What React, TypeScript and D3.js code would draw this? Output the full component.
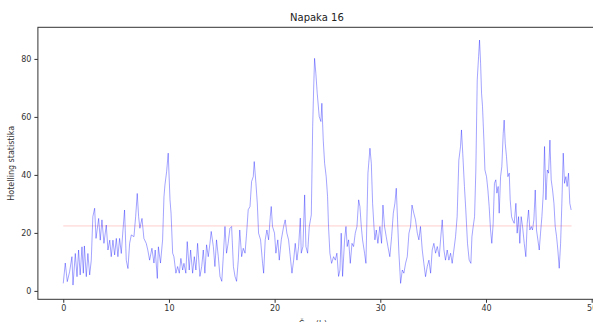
import React, { useRef, useEffect } from 'react';
import * as d3 from 'd3';

// time in hours
const hours = [
  0.0, 0.19, 0.38, 0.6, 0.82, 0.92, 1.14, 1.3, 1.45, 1.6, 1.77, 1.9, 2.0, 2.18, 2.33, 2.5, 2.65, 2.8, 2.97, 3.1,
  3.35, 3.5, 3.66, 3.85, 4.07, 4.23, 4.4, 4.54, 4.7, 4.86, 5.02, 5.17, 5.33, 5.49, 5.65, 5.8, 5.96, 6.12, 6.28, 6.44,
  6.69, 6.85, 7.0, 7.13, 7.25, 7.45, 7.63, 7.85, 8.0, 8.17, 8.39, 8.58, 8.7, 8.9, 9.0, 9.2,
  9.4, 9.53, 9.62, 9.78, 9.93, 10.1, 10.2, 10.35, 10.47, 10.66, 10.82, 10.98, 11.13, 11.3, 11.42, 11.6, 11.73, 11.92,
  12.05, 12.24, 12.4, 12.55, 12.71, 12.93, 13.1, 13.25, 13.4, 13.56, 13.72, 13.88, 14.0, 14.2, 14.35, 14.5, 14.67,
  14.83, 15.0, 15.14, 15.3, 15.45, 15.6, 15.77, 15.93, 16.1, 16.25, 16.4, 16.56, 16.7, 16.88, 17.03, 17.2, 17.35,
  17.5, 17.67, 17.82, 17.98, 18.07, 18.23, 18.36, 18.48, 18.67, 18.86,
  18.96, 19.11, 19.27, 19.43, 19.59, 19.68, 19.8, 19.99, 20.12, 20.3, 20.44, 20.63, 20.85, 21.0, 21.16, 21.32, 21.48,
  21.64, 21.8, 21.95, 22.11, 22.27, 22.43, 22.52, 22.68, 22.84, 22.96, 23.12, 23.28, 23.47, 23.6, 23.69, 23.78, 23.9,
  24.03, 24.22, 24.38, 24.47, 24.6, 24.73, 24.88, 25.01, 25.1, 25.23, 25.39, 25.58, 25.74, 25.89, 26.05, 26.18, 26.3,
  26.43, 26.62, 26.75, 26.87, 27.0, 27.16, 27.32, 27.47, 27.63, 27.79, 27.95, 28.07, 28.2, 28.32, 28.51, 28.64,
  28.83, 29.02, 29.15, 29.27, 29.4, 29.49, 29.62, 29.77, 29.96, 30.12, 30.25, 30.4, 30.56, 30.72, 30.9, 31.07, 31.23,
  31.38, 31.51, 31.63, 31.76, 31.92, 32.08, 32.23, 32.39, 32.55, 32.71, 32.86, 33.0, 33.17, 33.33, 33.5, 33.65, 33.8,
  33.97, 34.12, 34.28, 34.44, 34.6, 34.76, 34.91, 35.07, 35.23, 35.39, 35.58, 35.7, 35.86, 36.02, 36.17, 36.33, 36.49,
  36.65, 36.8, 36.96, 37.12, 37.27, 37.43, 37.59, 37.68, 37.8, 37.96, 38.09,
  38.25, 38.41, 38.57, 38.67, 38.79, 38.92, 39.04, 39.17, 39.3, 39.39, 39.49, 39.58, 39.67, 39.8, 39.9, 40.05, 40.18,
  40.3, 40.43, 40.55, 40.68, 40.8, 40.93, 41.03, 41.15, 41.25, 41.38, 41.5, 41.63, 41.72, 41.82, 41.94, 42.07, 42.2,
  42.29, 42.42, 42.51, 42.67, 42.83, 42.95, 43.08, 43.2, 43.33, 43.46, 43.62, 43.77, 43.9, 44.03, 44.15, 44.28, 44.4,
  44.53, 44.66, 44.78, 44.91, 45.04, 45.16, 45.29, 45.42, 45.54, 45.67, 45.8, 45.92, 46.05, 46.17, 46.3, 46.43, 46.55,
  46.68, 46.8, 46.93, 47.06, 47.18, 47.31, 47.43, 47.56, 47.68, 47.81, 47.93, 48.06,
];

// Hotelling T2 statistic at each of those times
const hotelling = [
  2.6, 9.6, 3.2, 6.6, 11.8, 2.0, 12.9, 4.9, 14.1, 5.5, 15.2, 6.1, 15.5, 4.9, 12.9, 5.5, 10.6, 25.6, 28.5, 18.1,
  25.0, 17.5, 24.5, 16.4, 22.7, 14.1, 17.5, 11.8, 17.5, 12.4, 18.1, 11.8, 18.1, 12.9, 21.0, 27.9, 10.6, 7.7, 16.4, 19.3,
  18.7, 25.6, 33.6, 25.6, 21.6, 25.0, 18.1, 16.4, 14.1, 10.6, 14.7, 9.6, 14.1, 4.3, 15.2, 9.6,
  17.6, 32.5, 36.5, 41.1, 47.5, 31.4, 26.8, 13.0, 11.8, 6.1, 8.4, 6.1, 11.2, 7.2, 9.5, 6.1, 17.0, 7.2,
  14.1, 6.1, 11.8, 7.2, 16.4, 5.0, 8.4, 14.1, 6.1, 15.9, 11.8, 16.4, 20.5, 15.3, 8.4, 17.6, 11.8,
  5.0, 3.3, 11.8, 22.2, 13.0, 16.4, 21.6, 22.2, 8.4, 5.0, 3.3, 10.6, 21.0, 11.8, 14.7, 13.0, 19.9,
  28.0, 29.1, 37.7, 39.4, 44.6, 37.1, 30.3, 19.9, 17.6, 9.5,
  6.1, 17.6, 21.0, 17.6, 25.6, 29.1, 22.2, 19.9, 13.0, 17.6, 10.6, 17.6, 22.2, 24.5, 19.9, 17.6, 11.8,
  6.1, 10.6, 16.4, 10.6, 15.3, 25.1, 13.0, 15.3, 33.1, 15.3, 13.0, 22.2, 26.2, 56.7, 69.3, 80.2, 75.1,
  68.2, 60.1, 58.4, 64.7, 52.0, 44.0, 39.4, 32.5, 22.2, 13.0, 9.5, 11.8, 10.6, 13.0, 5.0, 7.2, 19.9,
  5.0, 17.6, 22.2, 15.3, 17.6, 9.5, 16.4, 15.3, 19.9, 22.2, 31.4, 29.1, 22.2, 17.6, 13.0, 9.5,
  40.6, 49.2, 44.0, 30.2, 22.2, 17.6, 21.0, 16.4, 22.2, 16.4, 29.6, 22.2, 18.7, 15.3, 11.8, 18.7, 26.8,
  30.2, 35.4, 24.5, 13.0, 2.6, 7.2, 6.1, 9.5, 11.8, 19.9, 22.2, 29.6, 26.8, 24.5, 19.9, 17.6, 22.2,
  14.1, 9.5, 4.9, 8.4, 10.6, 6.1, 14.1, 16.4, 13.0, 15.3, 11.8, 17.6, 24.5, 14.1, 10.6, 14.1, 10.6,
  13.0, 9.5, 14.1, 18.7, 25.6, 45.1, 49.8, 55.5, 47.5, 36.0, 27.9,
  16.4, 10.6, 9.5, 18.7, 22.2, 25.6, 41.7, 72.7, 80.8, 86.5, 78.5, 68.2, 63.6, 52.0, 41.7, 39.4, 34.8,
  29.1, 21.0, 16.4, 23.3, 37.1, 38.3, 33.7, 36.0, 26.8, 39.4, 42.9, 54.3, 58.9, 50.9, 46.3, 39.4, 40.6,
  31.4, 25.6, 24.5, 23.3, 30.2, 19.9, 25.6, 16.4, 25.6, 22.2, 16.4, 11.8, 23.3, 27.9, 21.0, 22.2, 21.0,
  24.5, 34.8, 21.0, 17.6, 14.1, 19.9, 25.6, 33.7, 49.8, 31.4, 41.7, 40.6, 52.0, 38.3, 34.8, 30.2, 22.2,
  18.7, 14.1, 7.8, 16.4, 30.2, 47.5, 37.1, 39.4, 36.0, 40.6, 30.2, 27.9,
];

const threshold = 22.4;
const thresholdSpan = [0, 48.1];
const xTicks = [0, 10, 20, 30, 40, 50];
const yTicks = [0, 20, 40, 60, 80];

const W = 593;
const H = 322;

const App = () => {
  const ref = useRef(null);

  useEffect(() => {
    const svg = d3.select(ref.current);
    svg.selectAll('*').remove();

    const x = d3.scaleLinear().domain([-2.4, 50.4]).range([37.9, 595.9]);
    const y = d3.scaleLinear().domain([-2.9, 90.9]).range([299.3, 27.3]);

    const font = 'DejaVu Sans, sans-serif';
    const ink = '#333';

    // threshold line
    svg.append('line')
      .attr('x1', x(thresholdSpan[0])).attr('x2', x(thresholdSpan[1]))
      .attr('y1', y(threshold)).attr('y2', y(threshold))
      .attr('stroke', 'red').attr('stroke-opacity', 0.2).attr('stroke-width', 1);

    const pts = hours.map((h, i) => [h, hotelling[i]]);
    const line = d3.line().x(d => x(d[0])).y(d => y(d[1]));

    svg.append('path')
      .datum(pts)
      .attr('d', line)
      .attr('fill', 'none')
      .attr('stroke', 'blue')
      .attr('stroke-opacity', 0.45)
      .attr('stroke-width', 0.8)
      .attr('stroke-linejoin', 'round');

    // spines
    svg.append('rect')
      .attr('x', x.range()[0]).attr('y', y.range()[1])
      .attr('width', x.range()[1] - x.range()[0])
      .attr('height', y.range()[0] - y.range()[1])
      .attr('fill', 'none').attr('stroke', ink).attr('stroke-width', 1);

    const gx = svg.append('g')
      .attr('transform', `translate(0,${y.range()[0]})`)
      .call(d3.axisBottom(x).tickValues(xTicks).tickSize(3.5).tickPadding(3).tickFormat(d3.format('d')));
    const gy = svg.append('g')
      .attr('transform', `translate(${x.range()[0]},0)`)
      .call(d3.axisLeft(y).tickValues(yTicks).tickSize(3.5).tickPadding(3).tickFormat(d3.format('d')));

    [gx, gy].forEach(g => {
      g.select('.domain').remove();
      g.selectAll('line').attr('stroke', ink);
      g.selectAll('text').attr('fill', ink).attr('font-family', font).attr('font-size', 8);
    });

    svg.append('text')
      .attr('x', (x.range()[0] + x.range()[1]) / 2).attr('y', 21)
      .attr('text-anchor', 'middle').attr('font-family', font).attr('font-size', 10).attr('fill', '#222')
      .text('Napaka 16');

    svg.append('text')
      .attr('transform', `translate(14,${(y.range()[0] + y.range()[1]) / 2}) rotate(-90)`)
      .attr('text-anchor', 'middle').attr('font-family', font).attr('font-size', 8).attr('fill', ink)
      .text('Hotelling statistika');

    svg.append('text')
      .attr('x', (x.range()[0] + x.range()[1]) / 2 - 4).attr('y', 327)
      .attr('text-anchor', 'middle').attr('font-family', font).attr('font-size', 8).attr('fill', ink)
      .text('Čas (h)');
  }, []);

  return (
    <svg ref={ref} width={W} height={H}
      style={{ position: 'fixed', left: 0, top: 0, background: '#fff' }} />
  );
};

export default App;
